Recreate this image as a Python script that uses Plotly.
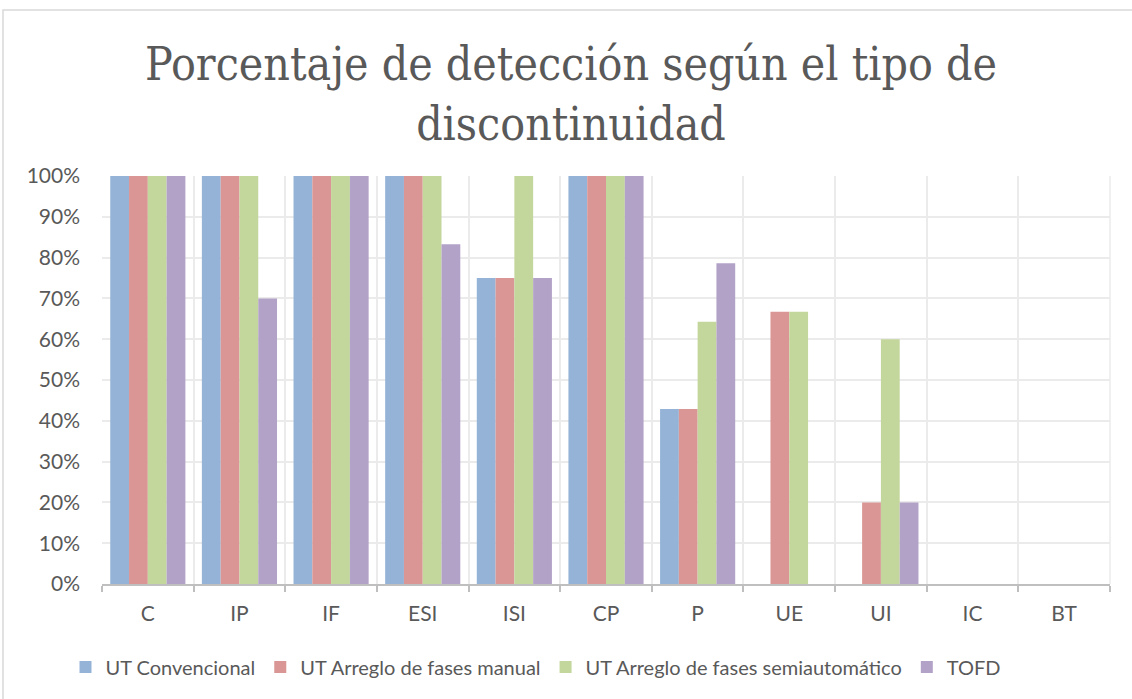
import plotly.graph_objects as go

# Discontinuity types and detection rates (%) per inspection technique
categorias = ["C", "IP", "IF", "ESI", "ISI", "CP", "P", "UE", "UI", "IC", "BT"]
ut_convencional = [100, 100, 100, 100, 75, 100, 42.9, 0, 0, 0, 0]
ut_fases_manual = [100, 100, 100, 100, 75, 100, 42.9, 66.7, 20, 0, 0]
ut_fases_semiauto = [100, 100, 100, 100, 100, 100, 64.3, 66.7, 60, 0, 0]
tofd = [100, 70, 100, 83.3, 75, 100, 78.6, 0, 20, 0, 0]

series = [
    ("UT Convencional", ut_convencional, "#95B3D7"),
    ("UT Arreglo de fases manual", ut_fases_manual, "#D99694"),
    ("UT Arreglo de fases semiautomático", ut_fases_semiauto, "#C3D69B"),
    ("TOFD", tofd, "#B3A2C7"),
]

fig = go.Figure()
for nombre, valores, color in series:
    fig.add_trace(go.Bar(
        x=categorias, y=[v / 100 for v in valores], name=nombre,
        marker=dict(color=color, line=dict(width=0)),
    ))

W, H = 1132, 699
L, R, T, B = 102, 22, 176, 115
pw, ph = W - L - R, H - T - B


def px_x(p):
    return (p - L) / pw


def px_y(p):
    return (H - B - p) / ph


tick_font = dict(family="Lato, Open Sans, sans-serif", size=21, color="#595959")

fig.update_layout(
    width=W, height=H,
    margin=dict(l=L, r=R, t=T, b=B),
    paper_bgcolor="white", plot_bgcolor="white",
    barmode="group", bargap=0.18, bargroupgap=0,
    title=dict(
        text="Porcentaje de detección según el tipo de<br>discontinuidad",
        xref="container", x=571 / W, xanchor="center",
        yref="container", y=1 - 80 / H, yanchor="middle",
        font=dict(family="DejaVu Serif Condensed, DejaVu Serif, serif", size=46, color="#595959"),
    ),
    xaxis=dict(
        tickson="boundaries", ticks="outside", ticklen=6, tickcolor="#BFBFBF", tickwidth=1.5,
        showline=True, linecolor="#BFBFBF", linewidth=1.5,
        showgrid=True, gridcolor="#EBEBEB", gridwidth=1.5,
        tickfont=tick_font, ticklabelstandoff=10,
    ),
    yaxis=dict(
        range=[0, 1], tickformat=".0%", dtick=0.1,
        showgrid=True, gridcolor="#EBEBEB", gridwidth=1.5,
        zeroline=False, showline=False,
        tickfont=tick_font, ticklabelstandoff=21,
    ),
    legend=dict(
        orientation="h", x=px_x(536), xanchor="center",
        y=px_y(667), yanchor="middle",
        font=dict(family="Lato, Open Sans, sans-serif", size=20, color="#595959"),
        itemwidth=30, tracegroupgap=0,
    ),
    shapes=[dict(
        type="rect", xref="paper", yref="paper",
        x0=px_x(3), x1=px_x(1140), y0=px_y(710), y1=px_y(10),
        line=dict(color="#D9D9D9", width=1.5), fillcolor="rgba(0,0,0,0)", layer="below",
    ), dict(
        type="line", xref="paper", yref="paper",
        x0=1, x1=1, y0=0, y1=1,
        line=dict(color="#EBEBEB", width=1.5), layer="below",
    )],
)

fig.write_html("out.html")
